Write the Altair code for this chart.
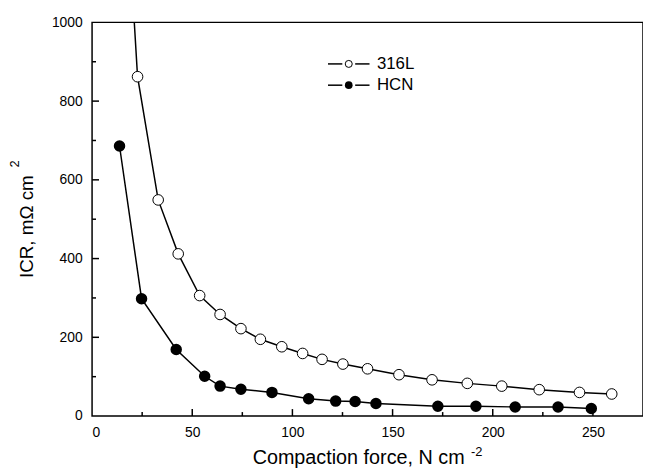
import altair as alt
import pandas as pd

# ---- data ----
x_316l = [14, 22.7, 33.0, 43.0, 53.7, 63.9, 74.3, 84.0, 94.7, 105.1, 114.8, 125.2,
          137.5, 153.2, 169.7, 187.3, 204.5, 223.2, 243.3, 259.4]
y_316l = [1600, 862, 549, 412, 306, 258, 222, 195, 176, 159, 144, 132,
          120, 105, 92, 83, 76, 67, 60, 56]
x_hcn = [13.7, 24.7, 42.0, 56.2, 63.9, 74.3, 89.8, 108.1, 121.6, 131.3, 141.7,
         172.6, 191.6, 211.2, 232.6, 249.2]
y_hcn = [686, 298, 169, 101, 76, 68, 60, 44, 38, 37, 32, 25, 25, 23, 23, 19]

x_major = [50, 100, 150, 200, 250]
x_minor = [25, 75, 125, 175, 225]
y_major = [200, 400, 600, 800]
y_minor = [100, 300, 500, 700, 900]
x_labels = [0, 50, 100, 150, 200, 250]
y_labels = [0, 200, 400, 600, 800, 1000]

FONT = "Liberation Sans"
W, H = 557, 398

df316 = pd.DataFrame({"x": x_316l, "y": y_316l})
dfhcn = pd.DataFrame({"x": x_hcn, "y": y_hcn})

xs = alt.Scale(domain=[0, 275], nice=False, zero=False)
ys = alt.Scale(domain=[0, 1000], nice=False, zero=False)

xaxis = alt.Axis(values=x_labels, format="d", ticks=False, domain=False, grid=False,
                 labelFont=FONT, labelFontSize=14, labelColor="black", labelPadding=10,
                 title="Compaction force, N cm", titleFont=FONT, titleFontSize=20,
                 titleFontWeight="normal", titleColor="black",
                 titleBaseline="alphabetic", titleAlign="center", titleX=269, titleY=48)
yaxis = alt.Axis(values=y_labels, format="d", ticks=False, domain=False, grid=False,
                 labelFont=FONT, labelFontSize=14, labelColor="black", labelPadding=10,
                 title="ICR, m\u03a9 cm", titleFont=FONT, titleFontSize=19,
                 titleFontWeight="normal", titleColor="black", titleAngle=270,
                 titleBaseline="alphabetic", titleAlign="center", titleX=-60, titleY=206)

def X(f):
    return alt.X(f, scale=xs, axis=xaxis)

def Y(f):
    return alt.Y(f, scale=ys, axis=yaxis)

line316 = alt.Chart(df316).mark_line(color="black", strokeWidth=1.5, clip=True).encode(
    x=X("x:Q"), y=Y("y:Q"), order="x:Q")
linehcn = alt.Chart(dfhcn).mark_line(color="black", strokeWidth=1.5, clip=True).encode(
    x=X("x:Q"), y=Y("y:Q"), order="x:Q")
pts316 = alt.Chart(df316).mark_point(shape="circle", filled=True, fill="white", stroke="black",
                                     strokeWidth=1, size=115, opacity=1, clip=True).encode(
    x=X("x:Q"), y=Y("y:Q"))
ptshcn = alt.Chart(dfhcn).mark_circle(color="black", size=135, opacity=1, clip=True).encode(
    x=X("x:Q"), y=Y("y:Q"))

def xticks(vals, length):
    return alt.Chart(pd.DataFrame({"x": vals})).mark_rule(color="black", strokeWidth=1.5).encode(
        x=X("x:Q"), y=alt.value(H), y2=alt.value(H - length))

def yticks(vals, length):
    return alt.Chart(pd.DataFrame({"y": vals})).mark_rule(color="black", strokeWidth=1.5).encode(
        y=Y("y:Q"), x=alt.value(0), x2=alt.value(length))

one = pd.DataFrame({"a": [0]})

def text(s, x, y, size, angle=0, align="left", baseline="alphabetic"):
    return alt.Chart(pd.DataFrame({"t": [s]})).mark_text(
        font=FONT, fontSize=size, color="black", align=align, baseline=baseline, angle=angle
    ).encode(text="t:N", x=alt.value(x), y=alt.value(y))

sup_x = text("-2", 383, 438, 13)
sup_y = text("2", -74, 143, 13, angle=270, align="center")

def legend_entry(label, y, filled):
    l1 = alt.Chart(one).mark_rule(color="black", strokeWidth=1.5).encode(
        x=alt.value(238.5), x2=alt.value(253), y=alt.value(y))
    l2 = alt.Chart(one).mark_rule(color="black", strokeWidth=1.5).encode(
        x=alt.value(266), x2=alt.value(280.5), y=alt.value(y))
    if filled:
        p = alt.Chart(one).mark_circle(color="black", size=60, opacity=1).encode(
            x=alt.value(259.5), y=alt.value(y))
    else:
        p = alt.Chart(one).mark_point(shape="circle", filled=True, fill="white", stroke="black",
                                      strokeWidth=1, size=50, opacity=1).encode(
            x=alt.value(259.5), y=alt.value(y))
    t = text(label, 288, y, 17, baseline="middle")
    return l1 + l2 + p + t

chart = alt.layer(
    line316, linehcn, pts316, ptshcn,
    xticks(x_major, 7), xticks(x_minor, 4), yticks(y_major, 7), yticks(y_minor, 4),
    sup_x, sup_y,
    legend_entry("316L", 42, False), legend_entry("HCN", 63.5, True),
).properties(
    width=W, height=H,
    padding={"left": 85, "top": 12, "right": 0, "bottom": 50},
    autosize=alt.AutoSizeParams(type="none"),
).configure_view(stroke="black", strokeWidth=1.5)

chart.save("out.html", embed_options={"renderer": "svg", "actions": False})
